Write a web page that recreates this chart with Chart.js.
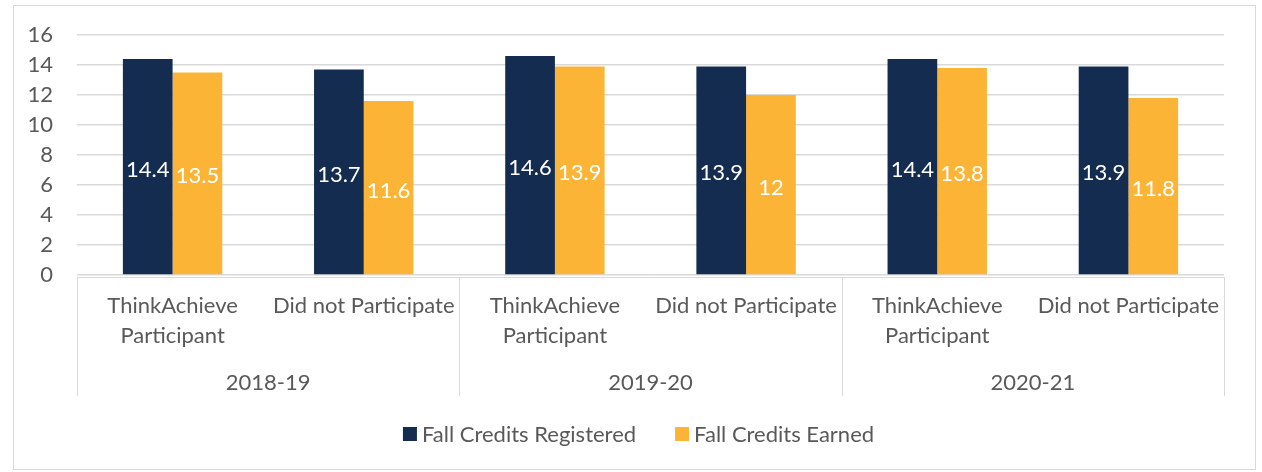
<!DOCTYPE html>
<html><head><meta charset="utf-8">
<script src="https://cdn.jsdelivr.net/npm/chart.js@4/dist/chart.umd.min.js"></script>
<style>
html,body{margin:0;padding:0;background:#fff;}
#wrap{position:absolute;left:13px;top:5px;width:1241px;height:463px;border:1px solid #d9d9d9;}
</style></head><body>
<div id="wrap"><canvas id="c" width="1241" height="463"></canvas></div>
<script>
const categories = [['ThinkAchieve','Participant'],'Did not Participate',['ThinkAchieve','Participant'],'Did not Participate',['ThinkAchieve','Participant'],'Did not Participate'];
const groups = ['2018-19','2019-20','2020-21'];
const registered = [14.4,13.7,14.6,13.9,14.4,13.9];
const earned = [13.5,11.6,13.9,12,13.8,11.8];
const yTicks = [0,2,4,6,8,10,12,14,16];

const FONT = 'Lato';
const FS = 22;
const TXT = '#595959';
const LINE = '#d9d9d9';

const labelPlugin = {
  id:'barLabels',
  afterDatasetsDraw(chart){
    const ctx = chart.ctx;
    ctx.save();
    ctx.fillStyle='#fff';
    ctx.font = FS+'px '+FONT;
    ctx.textAlign='center';
    ctx.textBaseline='middle';
    chart.data.datasets.forEach((ds,i)=>{
      chart.getDatasetMeta(i).data.forEach((el,j)=>{
        ctx.fillText(String(ds.data[j]), el.x, (el.y+el.base)/2+3);
      });
    });
    ctx.restore();
  }
};
const groupPlugin = {
  id:'groups',
  afterDraw(chart){
    const ctx = chart.ctx, x = chart.scales.x, ca = chart.chartArea;
    const n = categories.length, per = n/groups.length;
    const step = (ca.right-ca.left)/n;
    ctx.save();
    ctx.strokeStyle = LINE; ctx.lineWidth = 1;
    ctx.beginPath();
    ctx.moveTo(ca.left, ca.bottom+2.5); ctx.lineTo(ca.right, ca.bottom+2.5);
    for(let g=0; g<=groups.length; g++){
      const xx = Math.round(x.getPixelForValue(g*per) - step/2)+0.5;
      ctx.moveTo(xx, ca.bottom+2); ctx.lineTo(xx, ca.bottom+121);
    }
    ctx.stroke();
    ctx.fillStyle = TXT; ctx.font = FS+'px '+FONT; ctx.textAlign='center'; ctx.textBaseline='middle';
    groups.forEach((g,i)=>{
      const xx = (x.getPixelForValue(i*per)+x.getPixelForValue(i*per+per-1))/2;
      ctx.fillText(g, xx, ca.bottom+108);
    });
    // legend
    const ds = chart.data.datasets;
    ctx.font = FS+'px '+FONT; ctx.textAlign='left';
    const box = 14, gapT = 5, gapI = 39;
    const widths = ds.map(d=>ctx.measureText(d.label).width);
    let total = widths.reduce((a,w)=>a+box+gapT+w,0) + gapI*(ds.length-1);
    let cx = chart.width/2 - total/2 + 4;
    const cy = ca.bottom + 159;
    ds.forEach((d,i)=>{
      ctx.fillStyle = d.backgroundColor;
      ctx.fillRect(cx, cy-box/2, box, box);
      ctx.fillStyle = TXT;
      ctx.fillText(d.label, cx+box+gapT, cy+1);
      cx += box+gapT+widths[i]+gapI;
    });
    ctx.restore();
  }
};

new Chart(document.getElementById('c'),{
  type:'bar',
  data:{labels:categories,datasets:[
    {label:'Fall Credits Registered',data:registered,backgroundColor:'#132c50',borderWidth:0},
    {label:'Fall Credits Earned',data:earned,backgroundColor:'#fbb436',borderWidth:0}
  ]},
  options:{
    responsive:false,animation:false,
    layout:{padding:{left:0,right:31,top:29,bottom:66}},
    scales:{
      x:{grid:{display:false},border:{display:false},
         ticks:{color:TXT,font:{family:FONT,size:FS,lineHeight:1.36},padding:8,maxRotation:0,autoSkip:false},
         afterFit(s){s.height=128;s.paddingLeft=0;s.paddingRight=0;}},
      y:{min:0,max:16,
         afterBuildTicks(s){s.ticks=yTicks.map(v=>({value:v}));},
         grid:{color:LINE,drawTicks:false,lineWidth:1.5},border:{display:false},
         ticks:{color:TXT,font:{family:FONT,size:FS},padding:24,autoSkip:false},
         afterFit(s){s.width=63;s.paddingTop=0;s.paddingBottom=0;}}
    },
    datasets:{bar:{categoryPercentage:0.52,barPercentage:1}},
    plugins:{
      legend:{display:false},
      tooltip:{enabled:false}
    }
  },
  plugins:[labelPlugin,groupPlugin]
});
</script></body></html>
